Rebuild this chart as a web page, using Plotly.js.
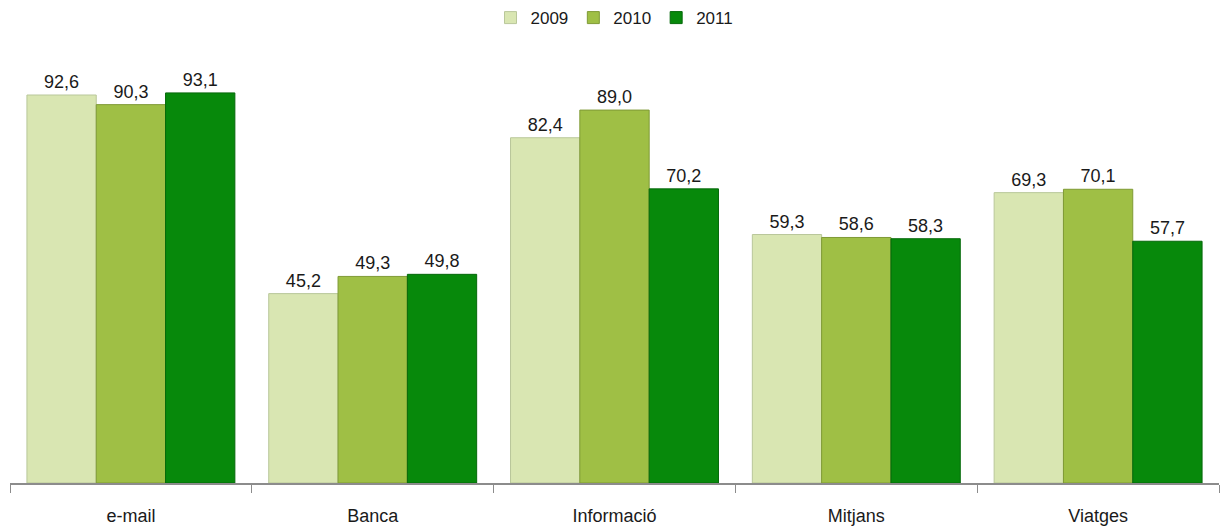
<!DOCTYPE html>
<html>
<head>
<meta charset="utf-8">
<script src="https://cdn.plot.ly/plotly-3.0.1.min.js"></script>
<style>html,body{margin:0;padding:0;background:#fff;}#chart{width:1227px;height:531px;}</style>
</head>
<body>
<div id="chart"></div>
<script>
const categories = ["e-mail", "Banca", "Informació", "Mitjans", "Viatges"];
const seriesNames = ["2009", "2010", "2011"];
const values2009 = [92.6, 45.2, 82.4, 59.3, 69.3];
const values2010 = [90.3, 49.3, 89.0, 58.6, 70.1];
const values2011 = [93.1, 49.8, 70.2, 58.3, 57.7];
const colors = ["#d9e6b2", "#9fbf45", "#07890b"];
const lineColors = ["#b9c79a", "#7f9a35", "#05680a"];

const allValues = [values2009, values2010, values2011];
const traces = allValues.map((vals, i) => ({
  type: "bar",
  name: seriesNames[i],
  x: categories,
  y: vals,
  marker: {color: colors[i], line: {color: lineColors[i], width: 1}},
  texttemplate: "%{y:.1f}",
  textposition: "outside",
  cliponaxis: false,
  textfont: {family: "Liberation Sans, Arial, sans-serif", size: 18, color: "#1a1a1a"},
  hoverinfo: "skip"
}));

const layout = {
  width: 1227, height: 531,
  margin: {l: 10, r: 8, t: 64, b: 48, autoexpand: false},
  paper_bgcolor: "#ffffff", plot_bgcolor: "#ffffff",
  separators: ",.",
  barmode: "group",
  bargap: 0.14,
  bargroupgap: 0,
  font: {family: "Liberation Sans, Arial, sans-serif", size: 18, color: "#1a1a1a"},
  showlegend: true,
  legend: {orientation: "h", x: 0.5, xanchor: "center", yref: "container", y: 0.966, yanchor: "middle",
           font: {size: 17, color: "#1a1a1a"}, itemwidth: 30, tracegroupgap: 0},
  xaxis: {
    type: "category",
    showline: true, linecolor: "#8c8c8c", linewidth: 1.5,
    ticks: "outside", tickson: "boundaries", ticklen: 8, tickcolor: "#8c8c8c", tickwidth: 1,
    ticklabelstandoff: 16,
    tickfont: {size: 18, color: "#1a1a1a"},
    showgrid: false, zeroline: false, fixedrange: true
  },
  yaxis: {
    range: [0, 100], visible: false, showgrid: false, zeroline: false, fixedrange: true
  }
};

Plotly.newPlot("chart", traces, layout, {displayModeBar: false, staticPlot: true});
</script>
</body>
</html>
